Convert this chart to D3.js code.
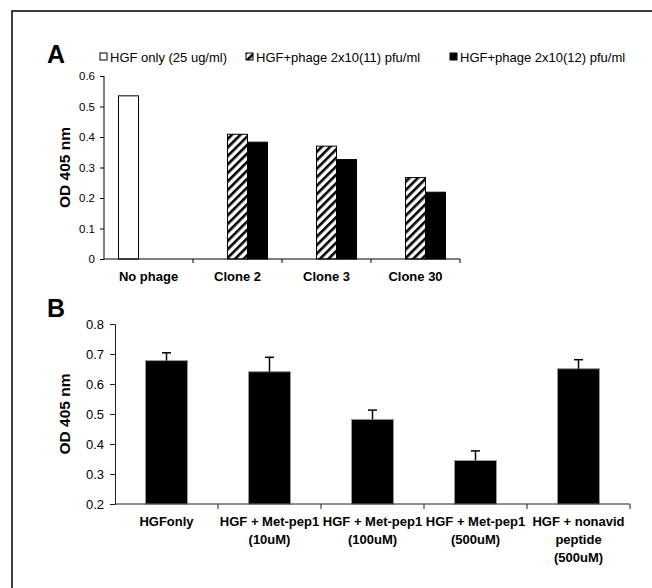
<!DOCTYPE html>
<html><head><meta charset="utf-8">
<script src="https://cdn.jsdelivr.net/npm/d3@7"></script>
<style>
html,body{margin:0;padding:0;background:#fff;}
svg{display:block;font-family:"Liberation Sans",Arial,sans-serif;}
</style></head>
<body><svg id="c" width="652" height="588"></svg>
<script>
// ---- Panel A data ----
const catsA = ["No phage", "Clone 2", "Clone 3", "Clone 30"];
const seriesA = ["HGF only (25 ug/ml)", "HGF+phage 2x10(11) pfu/ml", "HGF+phage 2x10(12) pfu/ml"];
const hgfOnly = [0.535, 0, 0, 0];
const phage11 = [0, 0.409, 0.370, 0.267];
const phage12 = [0, 0.383, 0.326, 0.219];
const ticksA = [0, 0.1, 0.2, 0.3, 0.4, 0.5, 0.6];
// ---- Panel B data ----
const catsB = ["HGFonly", "HGF + Met-pep1\n(10uM)", "HGF + Met-pep1\n(100uM)", "HGF + Met-pep1\n(500uM)", "HGF + nonavid\npeptide\n(500uM)"];
const valuesB = [0.678, 0.641, 0.482, 0.345, 0.651];
const errB = [0.026, 0.048, 0.031, 0.032, 0.030];
const ticksB = [0.2, 0.3, 0.4, 0.5, 0.6, 0.7, 0.8];
const yLabel = "OD 405 nm";

const svg = d3.select("#c");

// pattern
const defs = svg.append("defs");
const pat = defs.append("pattern").attr("id","hatch").attr("patternUnits","userSpaceOnUse")
  .attr("width",6).attr("height",6).attr("patternTransform","rotate(45)");
pat.append("rect").attr("width",6).attr("height",6).attr("fill","#fff");
pat.append("rect").attr("x",0).attr("width",2.6).attr("height",6).attr("fill","#000");

// frame
svg.append("rect").attr("x",12).attr("y",11).attr("width",700).attr("height",700)
  .attr("fill","none").attr("stroke","#000").attr("stroke-width",1.5);

// ================= Panel A =================
const xA = d3.scaleBand().domain(catsA).range([104, 460]);
const yA = d3.scaleLinear().domain([0, 0.6]).range([259, 76]);
const sub = d3.scaleBand().domain(seriesA).range([xA.bandwidth()/2 - 30, xA.bandwidth()/2 + 30]);
const fills = ["#fff", "url(#hatch)", "#000"];
const dataA = [hgfOnly, phage11, phage12];

const gA = svg.append("g");
seriesA.forEach((s, si) => {
  gA.selectAll(null).data(catsA.map((c,i)=>({c, v: dataA[si][i]})).filter(d=>d.v>0))
    .join("rect")
    .attr("x", d => xA(d.c) + sub(s))
    .attr("y", d => yA(d.v))
    .attr("width", sub.bandwidth())
    .attr("height", d => yA(0) - yA(d.v))
    .attr("fill", fills[si]).attr("stroke","#000").attr("stroke-width",1);
});

const axA = gA.append("g").attr("transform","translate(104,0)")
  .call(d3.axisLeft(yA).tickValues(ticksA).tickSize(4).tickPadding(5)
    .tickFormat(d => d === 0 ? "0" : d3.format(".1f")(d)));
axA.select(".domain").attr("d", `M0,${yA(0.6)}V${yA(0)}`);
axA.selectAll("text").attr("font-size", 11.5).attr("font-family","Liberation Sans, Arial");

const axAx = gA.append("g").attr("transform",`translate(0,${yA(0)})`)
  .call(d3.axisBottom(xA).tickSize(0).tickPadding(13));
axAx.select(".domain").attr("d", `M104,0H460`);
axAx.selectAll("text").attr("font-size",13).attr("font-weight","bold").attr("font-family","Liberation Sans, Arial");
gA.selectAll(null).data(catsA.slice(1).map(c=>xA(c)).concat([xA.range()[1]]))
  .join("line").attr("x1",d=>d).attr("x2",d=>d).attr("y1",yA(0)).attr("y2",yA(0)+4).attr("stroke","#000");

gA.append("text").attr("transform",`translate(70,${(yA(0)+yA(0.6))/2}) rotate(-90)`)
  .attr("text-anchor","middle").attr("font-size",15.5).attr("font-weight","bold").text(yLabel);
gA.append("text").attr("x",47).attr("y",63).attr("font-size",25).attr("font-weight","bold").text("A");

// legend
const legX = [100, 246, 450];
seriesA.forEach((s, i) => {
  gA.append("rect").attr("x", legX[i]).attr("y", 53).attr("width",7).attr("height",7)
    .attr("fill", fills[i]).attr("stroke","#000").attr("stroke-width",1);
  gA.append("text").attr("x", legX[i] + 10).attr("y", 61.5).attr("font-size",13).text(s);
});

// ================= Panel B =================
const xB = d3.scaleBand().domain(catsB).range([115, 630]).paddingInner(0).paddingOuter(0);
const yB = d3.scaleLinear().domain([0.2, 0.8]).range([504, 324]);
const bw = 42;
const gB = svg.append("g");
gB.selectAll(null).data(catsB.map((c,i)=>({c, v: valuesB[i], e: errB[i]})))
  .join("rect")
  .attr("x", d => xB(d.c) + xB.bandwidth()/2 - bw/2)
  .attr("y", d => yB(d.v)).attr("width", bw).attr("height", d => yB(0.2) - yB(d.v))
  .attr("fill","#000").attr("stroke","#999").attr("stroke-width",1);
const eb = gB.selectAll(null).data(catsB.map((c,i)=>({c, v: valuesB[i], e: errB[i]}))).join("g");
eb.append("line").attr("x1", d => xB(d.c) + xB.bandwidth()/2).attr("x2", d => xB(d.c) + xB.bandwidth()/2)
  .attr("y1", d => yB(d.v)).attr("y2", d => yB(d.v + d.e)).attr("stroke","#000").attr("stroke-width",1.5);
eb.append("line").attr("x1", d => xB(d.c) + xB.bandwidth()/2 - 4.5).attr("x2", d => xB(d.c) + xB.bandwidth()/2 + 4.5)
  .attr("y1", d => yB(d.v + d.e)).attr("y2", d => yB(d.v + d.e)).attr("stroke","#000").attr("stroke-width",1.5);

const axB = gB.append("g").attr("transform","translate(115,0)")
  .call(d3.axisLeft(yB).tickValues(ticksB).tickSize(5).tickPadding(6).tickFormat(d3.format(".1f")));
axB.selectAll(".domain,line").attr("stroke","#222");
axB.selectAll("text").attr("font-size",13).attr("font-family","Liberation Sans, Arial");

gB.append("line").attr("x1",115).attr("x2",630).attr("y1",yB(0.2)).attr("y2",yB(0.2)).attr("stroke","#222");
gB.selectAll(null).data(catsB.slice(1).map(c=>xB(c)).concat([xB.range()[1]]))
  .join("line").attr("x1",d=>d).attr("x2",d=>d).attr("y1",yB(0.2)).attr("y2",yB(0.2)+5).attr("stroke","#222");

const lab = gB.selectAll(null).data(catsB).join("text")
  .attr("text-anchor","middle").attr("font-size",13).attr("font-weight","bold")
  .attr("transform", d => `translate(${xB(d)+xB.bandwidth()/2},526)`);
lab.selectAll("tspan").data(d => d.split("\n")).join("tspan")
  .attr("x",0).attr("y",(d,i)=>i*18).text(d=>d);

gB.append("text").attr("transform",`translate(70,${(yB(0.2)+yB(0.8))/2}) rotate(-90)`)
  .attr("text-anchor","middle").attr("font-size",15.5).attr("font-weight","bold").text(yLabel);
gB.append("text").attr("x",47).attr("y",317).attr("font-size",25).attr("font-weight","bold").text("B");
</script></body></html>
